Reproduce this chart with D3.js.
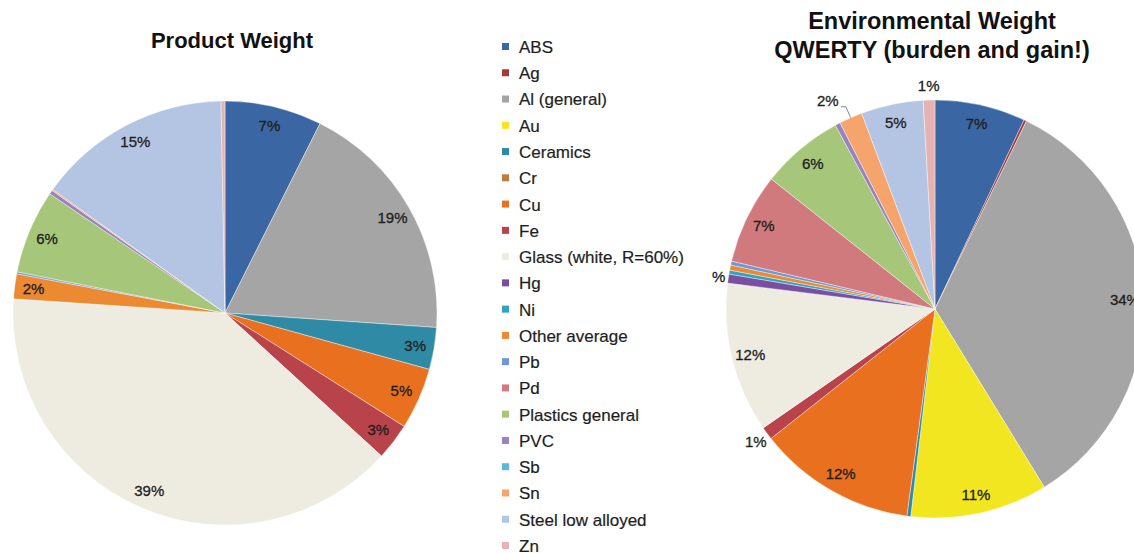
<!DOCTYPE html>
<html>
<head>
<meta charset="utf-8">
<script src="https://cdn.jsdelivr.net/npm/d3@7"></script>
<style>
  body { margin: 0; background: #fff; }
  text { font-family: "Liberation Sans", Arial, sans-serif; }
</style>
</head>
<body>
<div id="chart"></div>
<script>
(function () {
  const width = 1134, height = 553;

  // materials, in legend order
  const materials = ["ABS", "Ag", "Al (general)", "Au", "Ceramics", "Cr", "Cu", "Fe",
    "Glass (white, R=60%)", "Hg", "Ni", "Other average", "Pb", "Pd", "Plastics general",
    "PVC", "Sb", "Sn", "Steel low alloyed", "Zn"];

  const colors = ["#3a66a3", "#a3393d", "#a5a5a5", "#f1e620", "#2f8aa6", "#c27b3f", "#e8701f", "#b8434b",
    "#eeece1", "#7a4f9f", "#2fa3c1", "#ec8a33", "#6d98d5", "#d17a7e", "#a6c67a",
    "#9883bf", "#5cbbd3", "#f5a46c", "#b3c5e3", "#e5b3b3"];

  // share per material (%)
  const productWeight = [7.4, 0, 18.7, 0, 3.2, 0, 4.7, 2.8,
    39.3, 0, 0, 1.9, 0.15, 0, 6.4,
    0.3, 0, 0.1, 14.8, 0.3];

  const environmentalWeight = [7.0, 0.2, 34.0, 10.6, 0.3, 0, 12.2, 1.0,
    11.6, 0.7, 0.3, 0.4, 0.3, 7.0, 6.4,
    0.4, 0, 1.8, 4.8, 0.9];

  const colorScale = d3.scaleOrdinal().domain(materials).range(colors);

  const svg = d3.select("#chart")
    .append("svg")
    .attr("width", width)
    .attr("height", height);

  // clip for the right chart (its left-most label is cut off in the original)
  svg.append("clipPath")
    .attr("id", "rightClip")
    .append("rect")
    .attr("x", 712).attr("y", 0)
    .attr("width", width - 712).attr("height", height);

  const charts = [
    { title: ["Product Weight"], values: productWeight, cx: 225, cy: 313, r: 212,
      titleX: 232, titleY: 48, titleSize: 22, outside: 0, clip: null },
    { title: ["Environmental Weight", "QWERTY (burden and gain!)"], values: environmentalWeight,
      cx: 935, cy: 309, r: 209, titleX: 932, titleY: 29, titleSize: 23.5, outside: 2.5, clip: "url(#rightClip)" }
  ];

  const pie = d3.pie().sort(null).value(d => d.value);

  charts.forEach(c => {
    const data = materials.map((m, i) => ({ name: m, value: c.values[i] }));
    const total = d3.sum(data, d => d.value);
    const arcs = pie(data);

    const arc = d3.arc().innerRadius(0).outerRadius(c.r);
    const labelArc = d3.arc().innerRadius(c.r * 0.91).outerRadius(c.r * 0.91);

    // titles
    svg.append("g")
      .selectAll("text")
      .data(c.title)
      .join("text")
      .attr("x", c.titleX)
      .attr("y", (d, i) => c.titleY + i * 29)
      .attr("text-anchor", "middle")
      .attr("font-size", c.titleSize)
      .attr("font-weight", "bold")
      .attr("fill", "#111")
      .text(d => d);

    const g = svg.append("g")
      .attr("clip-path", c.clip)
      .append("g")
      .attr("transform", "translate(" + c.cx + "," + c.cy + ")");

    g.selectAll("path")
      .data(arcs.filter(d => d.data.value > 0))
      .join("path")
      .attr("d", arc)
      .attr("fill", d => colorScale(d.data.name))
      .attr("stroke", "#fff")
      .attr("stroke-width", 0.4);

    // percentage labels
    const labelled = arcs
      .map(d => Object.assign(d, { pct: d.data.value / total * 100 }))
      .filter(d => d.pct >= 0.6);

    labelled.forEach(d => {
      const mid = (d.startAngle + d.endAngle) / 2;
      const isOut = d.pct < c.outside;
      let x, y;
      if (isOut) {
        const rr = d.pct > 1.5 ? c.r + 27 : c.r + 14;
        x = Math.sin(mid) * rr;
        y = -Math.cos(mid) * rr;
        if (d.pct > 1.5) {
          // leader line from slice edge to label
          const ex = Math.sin(mid) * c.r, ey = -Math.cos(mid) * c.r;
          const kx = Math.sin(mid) * (c.r + 12), ky = -Math.cos(mid) * (c.r + 12);
          g.append("polyline")
            .attr("points", [[ex, ey], [kx, ky], [kx - 5, ky]].join(" "))
            .attr("fill", "none")
            .attr("stroke", "#7a8a99")
            .attr("stroke-width", 1);
          x = kx - 18;
          y = ky - 6;
        }
      } else {
        [x, y] = labelArc.centroid(d);
      }
      g.append("text")
        .attr("x", x)
        .attr("y", y)
        .attr("dy", "0.35em")
        .attr("text-anchor", "middle")
        .attr("font-size", 15)
        .attr("fill", "#1e1e1e")
        .attr("stroke", "#1e1e1e")
        .attr("stroke-width", 0.3)
        .text(Math.round(d.pct) + "%");
    });
  });

  // legend
  const legendY = d3.scalePoint().domain(materials).range([47, 546]);

  const legend = svg.append("g")
    .selectAll("g")
    .data(materials)
    .join("g")
    .attr("transform", d => "translate(502," + legendY(d) + ")");

  legend.append("rect")
    .attr("x", 0)
    .attr("y", -4)
    .attr("width", 7)
    .attr("height", 7)
    .attr("fill", d => colorScale(d));

  legend.append("text")
    .attr("x", 17)
    .attr("dy", "0.35em")
    .attr("font-size", 17)
    .attr("fill", "#1e1e1e")
    .attr("stroke", "#1e1e1e")
    .attr("stroke-width", 0.2)
    .text(d => d);
})();
</script>
</body>
</html>
